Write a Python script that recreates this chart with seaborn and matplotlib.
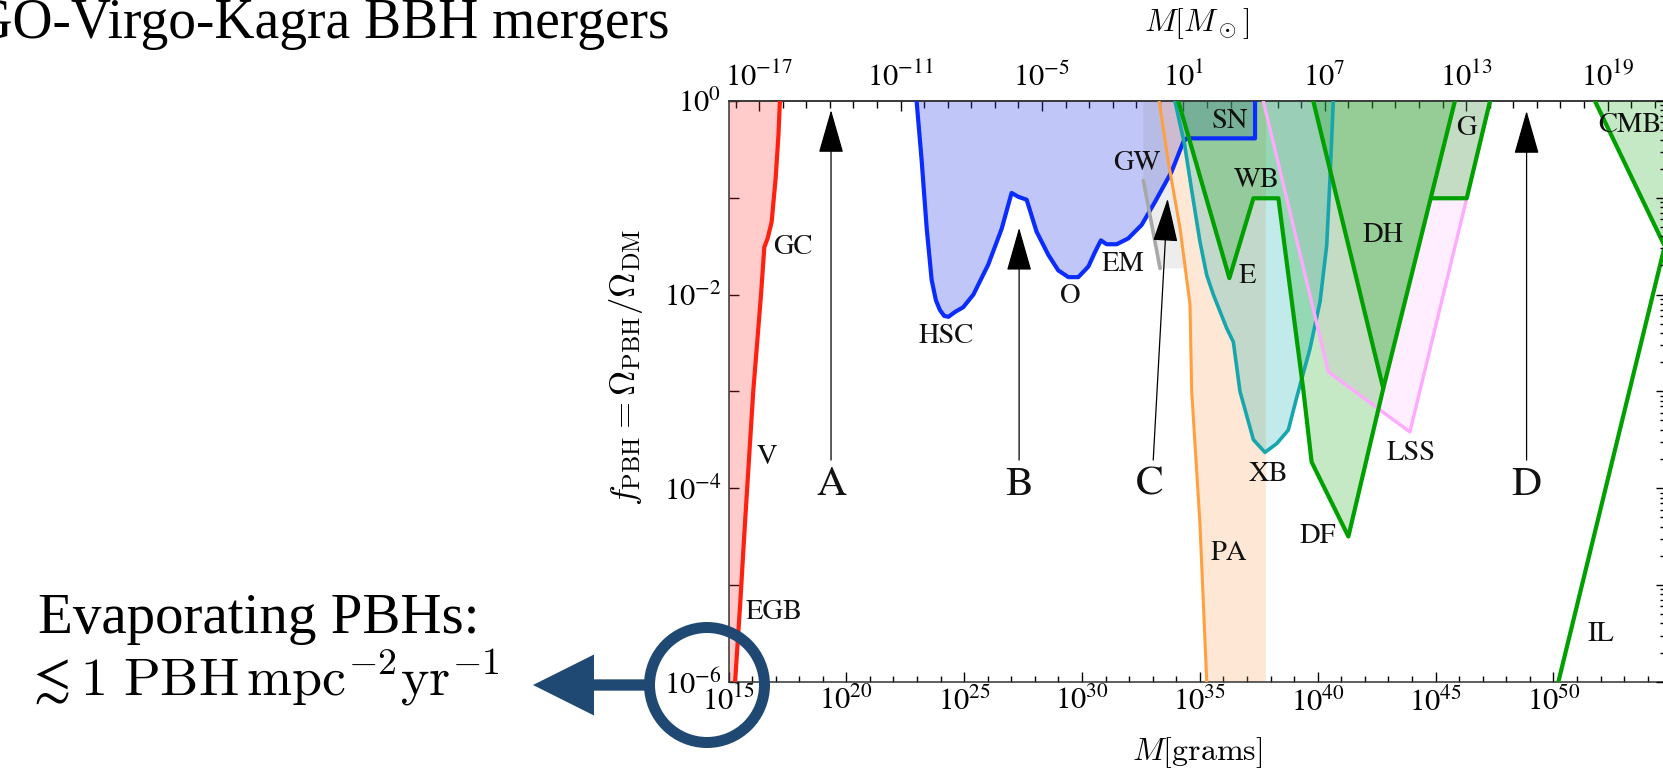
import numpy as np
import matplotlib
matplotlib.use("Agg")
import matplotlib.pyplot as plt
import matplotlib.transforms as mtransforms
from matplotlib.patches import Ellipse, FancyArrow
from matplotlib.ticker import FixedLocator, FuncFormatter, NullFormatter, LogLocator
import seaborn as sns

# ---- constraint curves: log10(M / g) versus log10(f_PBH) ----
egb_logm = [17.18, 17.12, 17.00, 16.83, 16.66, 16.52, 16.38, 16.05, 15.70, 15.49, 15.28]
egb_logf = [0.0, -0.35, -0.80, -1.25, -1.42, -1.51, -2.00, -3.00, -4.36, -5.22, -6.00]

lens_logm = [22.98, 23.20, 23.41, 23.62, 23.80, 23.97, 24.15, 24.33, 24.61, 24.96, 25.39,
             26.02, 26.59, 27.01, 27.30, 27.65, 28.07, 28.57, 28.99, 29.42, 29.84, 30.27,
             30.55, 30.80, 31.04, 31.47, 31.96, 32.53, 33.10, 33.80, 34.30, 34.45, 37.34,
             37.34]
lens_logf = [0.0, -0.63, -1.32, -1.85, -2.06, -2.16, -2.22, -2.23, -2.18, -2.13, -2.00,
             -1.69, -1.32, -0.95, -0.99, -1.02, -1.35, -1.59, -1.75, -1.82, -1.82, -1.71,
             -1.56, -1.44, -1.48, -1.48, -1.42, -1.28, -1.04, -0.73, -0.42, -0.386, -0.386,
             0.0]

gw_logm = [32.60, 33.31]
gw_logf = [-0.82, -1.73]

pa_logm = [33.27, 33.66, 34.16, 34.58, 34.65, 35.00, 35.29, 35.31]
pa_logf = [0.0, -0.63, -1.32, -2.10, -2.99, -4.36, -6.00, -6.30]
pa_edge_logm = 37.80

xb_logm = [33.94, 34.35, 34.65, 35.00, 35.29, 35.57, 36.14, 36.42, 36.70, 37.27, 37.76,
           38.26, 38.75, 39.11, 39.67, 40.10, 40.38, 40.52, 40.66]
xb_logf = [0.0, -0.45, -0.92, -1.45, -1.80, -2.00, -2.35, -2.49, -3.00, -3.50, -3.63,
           -3.54, -3.40, -3.06, -2.56, -2.07, -1.49, -0.80, 0.0]

edf_logm = [34.08, 36.25, 37.27, 38.33, 39.39, 39.74, 41.30, 42.78]
edf_logf = [0.0, -1.83, -1.005, -1.005, -2.99, -3.73, -4.50, -2.97]

dh_logm = [39.81, 42.78, 45.82]
dh_logf = [0.0, -2.97, 0.0]

g_logm = [44.83, 46.32, 47.31]
g_logf = [-1.005, -1.005, 0.0]

lss_logm = [37.69, 40.45, 43.91, 46.32]
lss_logf = [0.0, -2.80, -3.42, -1.005]

cmb_logm = [51.76, 54.72]
cmb_logf = [0.0, -1.50]

il_logm = [50.21, 54.72]
il_logf = [-6.0, -1.50]

# region names and where they sit (log10 M, log10 f)
region_names = ["GC", "V", "EGB", "HSC", "O", "EM", "GW", "SN", "WB", "E", "DH", "G",
                "CMB", "LSS", "XB", "DF", "PA", "IL"]
region_logm = [17.75, 16.62, 16.95, 24.22, 29.49, 31.75, 32.32, 36.28, 37.41, 37.01, 42.78,
               46.29, 53.25, 43.98, 37.93, 40.02, 36.21, 52.00]
region_logf = [-1.51, -3.68, -5.28, -2.435, -2.02, -1.69, -0.64, -0.21, -0.82, -1.815, -1.385,
               -0.28, -0.25, -3.64, -3.86, -4.50, -4.67, -5.51]

# mass windows A-D: arrow base, arrow tip, letter position
window_names = ["A", "B", "C", "D"]
window_base_logm = [19.35, 27.33, 33.02, 48.86]
window_tip_logm = [19.35, 27.33, 33.63, 48.86]
window_tip_logf = [-0.093, -1.31, -1.01, -0.103]
window_base_logf = -3.71
window_letter_logm = [19.35, 27.33, 32.88, 48.86]
window_letter_logf = -3.97

x_major_logm = list(range(15, 55, 5))
y_logf_ticks = list(range(-6, 1))
top_major_logmsun = list(range(-17, 20, 6))
M_SUN_G = 1.989e33


def P(v):
    return np.power(10.0, np.asarray(v, dtype=float))


sns.set_theme(style="ticks")
plt.rcParams.update({
    "font.family": ["STIXGeneral", "DejaVu Serif"],
    "mathtext.fontset": "stix",
    "axes.linewidth": 1.1,
    "xtick.major.width": 1.0,
    "ytick.major.width": 1.0,
    "xtick.minor.width": 1.0,
    "ytick.minor.width": 1.0,
    "text.color": "black",
    "axes.labelcolor": "black",
    "xtick.color": "black",
    "ytick.color": "black",
})

W, H = 1663, 771
fig = plt.figure(figsize=(W / 100, H / 100), dpi=100)
fig.patch.set_facecolor("white")

ax_left, ax_right, ax_top, ax_bottom = 728.5, 1666.0, 101.0, 681.7
ax = fig.add_axes([ax_left / W, 1 - ax_bottom / H, (ax_right - ax_left) / W, (ax_bottom - ax_top) / H])
ax.set_xscale("log")
ax.set_yscale("log")
xmax_log = 15 + (ax_right - ax_left) / 23.57
ax.set_xlim(1e15, 10 ** xmax_log)
ax.set_ylim(1e-6, 1.0)
ax.set_facecolor("white")

TOP, BOT = 0.6, -6.6


def fill(xs, ys, color, alpha, z=1):
    ax.fill(P(xs), P(ys), color=color, alpha=alpha, lw=0, zorder=z)


# filled regions
fill([egb_logm[0]] + egb_logm + [egb_logm[-1], 14.0, 14.0],
     [TOP] + egb_logf + [BOT, BOT, TOP], "#ff3030", 0.25)
fill([lens_logm[0]] + lens_logm + [lens_logm[-1]],
     [TOP] + lens_logf + [TOP], "#3344ee", 0.30)
fill([32.60, 32.60, 33.31, 34.39, 34.16, 33.66, 33.27, 33.27],
     [TOP, -0.82, -1.73, -1.73, -1.32, -0.63, 0.0, TOP], "#808080", 0.14)
fill([pa_logm[0]] + pa_logm + [pa_edge_logm, pa_edge_logm],
     [TOP] + pa_logf + [BOT, TOP], "#ff9640", 0.22)
fill([xb_logm[0]] + xb_logm + [xb_logm[-1]],
     [TOP] + xb_logf + [TOP], "#00aaaf", 0.24)
fill([lss_logm[0]] + lss_logm + [g_logm[-1], g_logm[-1]],
     [TOP] + lss_logf + [0.0, TOP], "#ff88ff", 0.14)
fill([edf_logm[0]] + edf_logm[:-1] + g_logm + [g_logm[-1]],
     [TOP] + edf_logf[:-1] + g_logf + [TOP], "#00a000", 0.23)
fill([dh_logm[0]] + dh_logm + [dh_logm[-1]],
     [TOP] + dh_logf + [TOP], "#00a000", 0.23)
fill([cmb_logm[0]] + cmb_logm + [57.0, 57.0],
     [TOP] + cmb_logf + [cmb_logf[-1], TOP], "#00a000", 0.23)


def line(xs, ys, color, lw, z=3):
    sns.lineplot(x=P(xs), y=P(ys), sort=False, estimator=None, color=color,
                 linewidth=lw, ax=ax, zorder=z, legend=False)


line(egb_logm, egb_logf, "#ff2010", 3.0)
line(lens_logm, lens_logf, "#0a2cff", 3.0)
line(gw_logm, gw_logf, "#a8a8a8", 2.6)
line(pa_logm, pa_logf, "#ffa040", 2.2)
line(xb_logm, xb_logf, "#18a6ad", 2.6)
line(lss_logm, lss_logf, "#ffaaff", 2.4)
line(edf_logm, edf_logf, "#00a000", 3.0)
line(dh_logm, dh_logf, "#00a000", 3.0)
line(g_logm, g_logf, "#00a000", 3.0)
line(cmb_logm, cmb_logf, "#00a000", 3.0)
line(il_logm, il_logf, "#00a000", 3.0)

for name, lm, lf in zip(region_names, region_logm, region_logf):
    ax.text(P(lm), P(lf), name, ha="center", va="center", fontsize=20.5,
            color="#111111", zorder=5)

for name, bm, tm, tf, lm in zip(window_names, window_base_logm, window_tip_logm,
                                window_tip_logf, window_letter_logm):
    ax.annotate("", xy=(P(tm), P(tf)), xytext=(P(bm), P(window_base_logf)),
                arrowprops=dict(arrowstyle="-|>,head_length=1.4,head_width=0.4",
                                color="black", lw=0.9, shrinkA=0, shrinkB=0,
                                mutation_scale=20), zorder=6)
    ax.text(P(lm), P(window_letter_logf), name, ha="center", va="center",
            fontsize=30, color="#111111", zorder=6)

# ---- axes ticks ----
ax.xaxis.set_major_locator(FixedLocator(P(x_major_logm)))
ax.xaxis.set_minor_locator(FixedLocator(P(range(15, 56))))
ax.xaxis.set_major_formatter(FuncFormatter(lambda v, p: r"$10^{%d}$" % round(np.log10(v))))
ax.xaxis.set_minor_formatter(NullFormatter())
ax.yaxis.set_major_locator(FixedLocator(P(y_logf_ticks)))
ax.yaxis.set_minor_locator(FixedLocator([]))
ax.yaxis.set_major_formatter(FuncFormatter(
    lambda v, p: (r"$10^{%d}$" % round(np.log10(v))) if round(np.log10(v)) % 2 == 0 else ""))
ax.tick_params(axis="x", which="both", direction="in", bottom=True, top=False,
               labelsize=22, pad=4)
ax.tick_params(axis="x", which="major", length=7.5)
ax.tick_params(axis="x", which="minor", length=4.2)
ax.tick_params(axis="y", which="both", direction="in", left=True, right=False,
               labelsize=22, pad=5, length=7.5)
for s in ax.spines.values():
    s.set_color("#333333")

sec = ax.secondary_xaxis("top", functions=(lambda m: m / M_SUN_G, lambda m: m * M_SUN_G))
sec.xaxis.set_major_locator(FixedLocator(P(top_major_logmsun)))
sec.xaxis.set_minor_locator(FixedLocator(P(range(-19, 23))))
sec.xaxis.set_major_formatter(FuncFormatter(lambda v, p: r"$10^{%d}$" % round(np.log10(v))))
sec.xaxis.set_minor_formatter(NullFormatter())
sec.tick_params(axis="x", which="both", direction="in", labelsize=22, pad=6)
sec.tick_params(axis="x", which="major", length=7.5)
sec.tick_params(axis="x", which="minor", length=4.8)
sec.spines["top"].set_color("#333333")

ax2 = ax.twinx()
ax2.set_yscale("log")
ax2.set_ylim(1e-6, 1.0)
ax2.yaxis.set_major_locator(LogLocator(base=10, numticks=20))
ax2.yaxis.set_minor_locator(LogLocator(base=10, subs=np.arange(2, 10), numticks=20))
ax2.yaxis.set_major_formatter(NullFormatter())
ax2.yaxis.set_minor_formatter(NullFormatter())
ax2.tick_params(axis="y", which="both", direction="in", right=True, labelright=False)
ax2.tick_params(axis="y", which="major", length=7.5)
ax2.tick_params(axis="y", which="minor", length=4.5)
for s in ax2.spines.values():
    s.set_visible(False)

# axis titles
fig.text(1197 / W, 1 - 753 / H, r"$M[\mathrm{grams}]$", ha="center", va="center",
         fontsize=23, math_fontfamily="cm")
fig.text(1197 / W, 1 - 24 / H, r"$M[M_\odot]$", ha="center", va="center",
         fontsize=23, math_fontfamily="cm")
fig.text(626 / W, 1 - 367 / H, r"$f_{\rm PBH}=\Omega_{\rm PBH}/\Omega_{\rm DM}$",
         rotation=90, ha="center", va="center", fontsize=25, math_fontfamily="cm")

# slide annotations
fig.text(670 / W, 1 - 38 / H, "LIGO-Virgo-Kagra BBH mergers", ha="right", va="baseline",
         fontsize=40, family="Liberation Serif")
fig.text(259 / W, 1 - 633 / H, "Evaporating PBHs:", ha="center", va="baseline",
         fontsize=41, family="Liberation Serif")
fig.text(262 / W, 1 - 695 / H,
         r"$\lesssim 1\ \mathrm{PBH}\,\mathrm{mpc}^{-2}\mathrm{yr}^{-1}$",
         ha="center", va="baseline", fontsize=39, math_fontfamily="cm")

navy = "#1f4973"
pix = mtransforms.IdentityTransform()
fig.add_artist(Ellipse((707, H - 685), 115, 115, transform=pix, fill=False,
                       lw=11 * 0.72, edgecolor=navy, zorder=10))
fig.add_artist(FancyArrow(646, H - 685, -(646 - 533), 0, width=11.3, head_width=61,
                          head_length=61, length_includes_head=True, transform=pix,
                          color=navy, lw=0, zorder=10))

fig.savefig("out.png", dpi=100, facecolor="white")
